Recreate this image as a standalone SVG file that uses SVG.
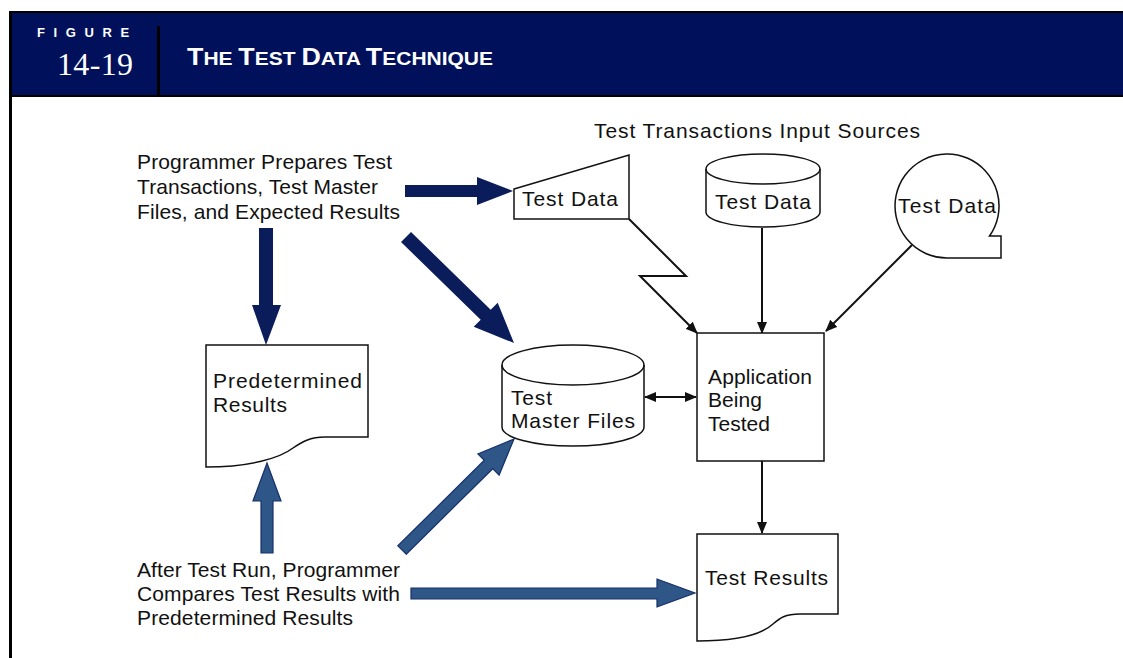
<svg xmlns="http://www.w3.org/2000/svg" width="1123" height="658" viewBox="0 0 1123 658">
<style>
.t{font-family:"Liberation Sans",Arial,sans-serif;font-size:21px;fill:#111}
.sh{fill:#fff;stroke:#111;stroke-width:1.5}
.ln{fill:none;stroke:#111;stroke-width:2}
.dk{fill:#0b1c5a;stroke:none}
.lb{fill:#2e5686;stroke:#16306a;stroke-width:1.2}
</style>
<defs>
<marker id="ah" viewBox="0 0 12 10" refX="11" refY="5" markerWidth="12" markerHeight="10" markerUnits="userSpaceOnUse" orient="auto-start-reverse">
<path d="M0,0 L12,5 L0,10 Z" fill="#111"/>
</marker>
</defs>
<rect width="1123" height="658" fill="#fff"/>
<g id="header">
<rect x="9" y="11" width="1114" height="86" fill="#000"/>
<rect x="12" y="13" width="1111" height="82" fill="#00105a"/>
<rect x="157" y="26" width="3" height="70" fill="#000"/>
<rect x="9" y="11" width="3" height="647" fill="#000"/>
<text x="37" y="37" font-family="'Liberation Sans',Arial,sans-serif" font-weight="bold" font-size="13" letter-spacing="8.6" fill="#fff">FIGURE</text>
<text x="57" y="75" font-family="'Liberation Serif','Times New Roman',serif" font-size="32" fill="#fff" textLength="76">14-19</text>
<text x="187" y="65" font-family="'Liberation Sans',Arial,sans-serif" font-weight="bold" fill="#fff" textLength="306" lengthAdjust="spacingAndGlyphs"><tspan font-size="23">T</tspan><tspan font-size="18">HE </tspan><tspan font-size="23">T</tspan><tspan font-size="18">EST </tspan><tspan font-size="23">D</tspan><tspan font-size="18">ATA </tspan><tspan font-size="23">T</tspan><tspan font-size="18">ECHNIQUE</tspan></text>
</g>
<g id="connectors">
<polygon class="dk" points="405,185 477,185 477,177 513,191 477,205 477,197 405,197"/>
<polygon class="dk" points="259,228 273,228 273,305 281,305 266,345 252,305 259,305"/>
<polygon class="dk" points="411,232 490.7,309.7 497.7,302.7 514,343 473.7,326.7 480.7,319.7 401,242"/>
<polygon class="lb" points="261,553 273,553 273,501 281,501 267,463 253,501 261,501"/>
<polygon class="lb" points="406.2,554.2 492.7,468.7 499.1,475.1 514,439 477.9,453.9 484.3,460.3 397.8,545.8"/>
<polygon class="lb" points="411,588 657,588 657,579 695,593 657,607 657,599 411,599"/>
<polyline class="ln" points="629,219 686,276 640,276 697,333" marker-end="url(#ah)"/>
<line class="ln" x1="762" y1="228" x2="762" y2="333" marker-end="url(#ah)"/>
<line class="ln" x1="912" y1="245" x2="826" y2="331" marker-end="url(#ah)"/>
<line class="ln" x1="645" y1="397" x2="696" y2="397" marker-start="url(#ah)" marker-end="url(#ah)"/>
<line class="ln" x1="762" y1="461" x2="762" y2="533" marker-end="url(#ah)"/>
</g>
<g id="prog-prepares">
<text class="t" x="137" y="169" textLength="255">Programmer Prepares Test</text>
<text class="t" x="137" y="194" textLength="241">Transactions, Test Master</text>
<text class="t" x="137" y="219" textLength="263">Files, and Expected Results</text>
</g>
<g id="input-sources">
<text class="t" x="594" y="138" textLength="326">Test Transactions Input Sources</text>
</g>
<g id="test-data-manual">
<polygon class="sh" points="514,189 629,155 629,219 514,219"/>
<text class="t" x="522" y="206" textLength="96">Test Data</text>
</g>
<g id="test-data-disk">
<path class="sh" d="M706,169 A57,15 0 0 1 820,169 V212 A57,15 0 0 1 706,212 Z"/>
<path class="ln" style="stroke-width:1.5" d="M706,169 A57,15 0 0 0 820,169"/>
<text class="t" x="715" y="209" textLength="96">Test Data</text>
</g>
<g id="test-data-tape">
<path class="sh" d="M947,258 A52,52 0 1 1 989.5,236 H1001 V258 Z"/>
<text class="t" x="898" y="213" textLength="98">Test Data</text>
</g>
<g id="predetermined">
<path class="sh" d="M206,345 H368 V437 H325 C310,437 302,442 293,448 C280,458 250,467 206,467 Z"/>
<text class="t" x="213" y="388" textLength="149">Predetermined</text>
<text class="t" x="213" y="412" textLength="74">Results</text>
</g>
<g id="master-files">
<path class="sh" d="M502,365 A71,20 0 0 1 644,365 V427 A71,19 0 0 1 502,427 Z"/>
<path class="ln" style="stroke-width:1.5" d="M502,365 A71,20 0 0 0 644,365"/>
<text class="t" x="511" y="405" textLength="41">Test</text>
<text class="t" x="511" y="428" textLength="124">Master Files</text>
</g>
<g id="application">
<rect class="sh" x="697" y="333" width="127" height="128"/>
<text class="t" x="708" y="384" textLength="104">Application</text>
<text class="t" x="708" y="407" textLength="54">Being</text>
<text class="t" x="708" y="431" textLength="62">Tested</text>
</g>
<g id="test-results">
<path class="sh" d="M697,534 H838 V614 H800 C785,614 780,618 773,624 C760,636 735,641 697,641 Z"/>
<text class="t" x="705" y="585" textLength="123">Test Results</text>
</g>
<g id="prog-compares">
<text class="t" x="137" y="577" textLength="263">After Test Run, Programmer</text>
<text class="t" x="137" y="601" textLength="263">Compares Test Results with</text>
<text class="t" x="137" y="625" textLength="216">Predetermined Results</text>
</g>
</svg>
